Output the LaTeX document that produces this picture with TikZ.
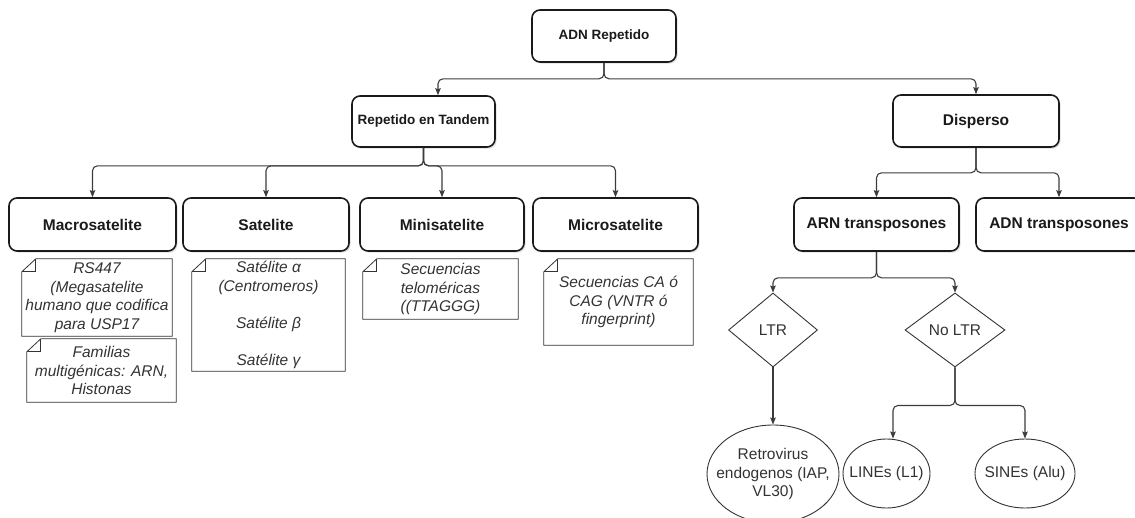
\documentclass[tikz,border=0pt]{standalone}
\usepackage{fontspec}
\setmainfont{Liberation Sans}
\usetikzlibrary{shapes.geometric,arrows.meta,shadows}

\definecolor{inkdark}{HTML}{1A1A1A}
\definecolor{inkgray}{HTML}{333333}
\definecolor{wiregray}{HTML}{3C3C3C}

\newcommand{\DiagFont}{\fontsize{15.5pt}{18.6pt}\selectfont}
\newcommand{\HeadFont}{\fontsize{13.5pt}{16pt}\selectfont}
% note with the corner folded at the top left
\newcommand{\FoldNote}[1]{%
    \draw[notefold] ([xshift=14pt]#1.north west) -- (#1.north east) -- (#1.south east)
        -- (#1.south west) -- ([yshift=-13pt]#1.north west) -- cycle;
    \draw[notefold] ([yshift=-13pt]#1.north west) -- ([xshift=14pt,yshift=-13pt]#1.north west)
        -- ([xshift=14pt]#1.north west);%
}

\tikzset{
    topicbox/.style={draw=inkdark, line width=1.6pt, rounded corners=8pt, fill=white,
        drop shadow={shadow xshift=1.6pt, shadow yshift=-1.6pt, opacity=0.25},
        font=\DiagFont\bfseries, text=inkdark, inner sep=0pt, minimum height=52pt},
    headbox/.style={topicbox, font=\HeadFont\bfseries},
    notebox/.style={draw=none, font=\DiagFont\itshape, text=inkgray, align=center, inner sep=0pt},
    notefold/.style={draw=inkgray, line width=0.8pt},
    choice/.style={diamond, draw=inkgray, line width=0.9pt, font=\DiagFont, text=inkgray, inner sep=0pt},
    leaf/.style={ellipse, draw=inkgray, line width=0.9pt, inner sep=0pt},
    leaftext/.style={font=\DiagFont, text=inkgray, align=center, inner sep=0pt},
    conn/.style={draw=wiregray, line width=1.1pt, rounded corners=5pt,
        -{Stealth[length=7pt,width=5.5pt,inset=1pt]}},
}

\begin{document}
\begin{tikzpicture}[x=1pt,y=-1pt]
    \clip (0,0) rectangle (1135,517);

    % level 1 and 2
    \node[headbox, minimum width=144pt] (rep) at (604,36) {ADN Repetido};
    \node[headbox, minimum width=143pt, minimum height=51pt] (tandem) at (423.5,121.5) {Repetido en Tandem};
    \node[topicbox, minimum width=166pt] (disp) at (976,121) {Disperso};

    % level 3
    \node[topicbox, minimum width=167pt, minimum height=53pt] (macro) at (92.5,224.5) {Macrosatelite};
    \node[topicbox, minimum width=166pt, minimum height=53pt] (sat) at (266,224.5) {Satelite};
    \node[topicbox, minimum width=164pt, minimum height=53pt] (mini) at (442,224.5) {Minisatelite};
    \node[topicbox, minimum width=165pt, minimum height=53pt] (micro) at (615.5,224.5) {Microsatelite};
    \node[topicbox, minimum width=165pt, minimum height=53pt] (arnt) at (876.5,224.5) {ARN transposones};
    \node[topicbox, minimum width=166pt, minimum height=53pt] (adnt) at (1059,224.5) {ADN transposones};

    % notes
    \node[notebox, minimum width=150pt, minimum height=77pt] (rsnote) at (97,297.5)
        {RS447\\(Megasatelite\\humano que codifica\\para USP17};
    \node[notebox, minimum width=149pt, minimum height=63pt] (famnote) at (101.5,370.5)
        {Familias\\multigénicas: ARN,\\Histonas};
    \node[notebox, minimum width=153pt, minimum height=112pt] (satnote) at (268.5,315)
        {Satélite α\\(Centromeros)\\[18.6pt]Satélite β\\[18.6pt]Satélite γ};
    \node[notebox, minimum width=155pt, minimum height=60pt] (mininote) at (440.5,289)
        {Secuencias\\teloméricas\\((TTAGGG)};
    \node[notebox, minimum width=149pt, minimum height=86pt] (micronote) at (618.5,302)
        {Secuencias CA ó\\CAG (VNTR ó\\fingerprint)};
    \foreach \n in {rsnote,famnote,satnote,mininote,micronote}
        \FoldNote{\n};

    % transposon classes
    \node[choice, minimum width=89pt, minimum height=74pt] (ltr) at (773,330) {LTR};
    \node[choice, minimum width=100pt, minimum height=74pt] (noltr) at (955,330) {No LTR};
    \node[leaf, minimum width=132pt, minimum height=98pt,
        label={[leaftext]center:Retrovirus\\endogenos (IAP,\\VL30)}] (retro) at (773,474) {};
    \node[leaf, minimum width=87pt, minimum height=69pt,
        label={[leaftext]center:LINEs (L1)}] (lines) at (886.5,473.5) {};
    \node[leaf, minimum width=100pt, minimum height=69pt,
        label={[leaftext]center:SINEs (Alu)}] (sines) at (1025,473.5) {};

    % connectors
    \draw[conn] (rep.south) -- ++(0,16) -| ([xshift=14.5pt]tandem.north);
    \draw[conn] (rep.south) -- ++(0,16) -| (disp.north);
    \foreach \c in {macro,sat,mini,micro}
        \draw[conn] (tandem.south) -- ++(0,18) -| (\c.north);
    \draw[conn] (disp.south) -- ++(0,25) -| (arnt.north);
    \draw[conn] (disp.south) -- ++(0,25) -| (adnt.north);
    \draw[conn] (arnt.south) -- ++(0,26) -| (ltr.north);
    \draw[conn] (arnt.south) -- ++(0,26) -| (noltr.north);
    \draw[conn] (ltr.south) -- (retro.north);
    \draw[conn] (noltr.south) -- ++(0,38) -| ([xshift=6.5pt]lines.north);
    \draw[conn] (noltr.south) -- ++(0,38) -| (sines.north);
\end{tikzpicture}
\end{document}
